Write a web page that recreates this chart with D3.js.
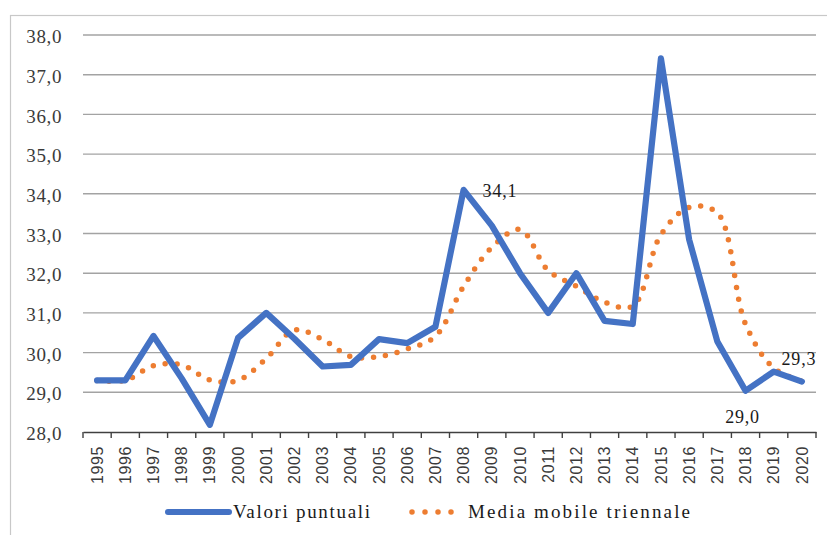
<!DOCTYPE html>
<html>
<head>
<meta charset="utf-8">
<script src="https://cdn.jsdelivr.net/npm/d3@7"></script>
<style>
  html, body { margin: 0; padding: 0; background: #fff; }
  svg { display: block; }
</style>
</head>
<body>
<svg id="chart" width="827" height="535"></svg>
<script>
// ---- data ----
const years = ["1995","1996","1997","1998","1999","2000","2001","2002","2003","2004","2005","2006","2007","2008","2009","2010","2011","2012","2013","2014","2015","2016","2017","2018","2019","2020"];
const valoriPuntuali = [29.3,29.3,30.42,29.35,28.18,30.37,31.0,30.35,29.65,29.69,30.34,30.24,30.65,34.1,33.2,32.0,31.0,32.0,30.8,30.72,37.41,32.85,30.28,29.04,29.52,29.27];
const mediaMobile = [29.3,29.3,29.67,29.69,29.31,29.3,29.85,30.57,30.33,29.9,29.9,30.09,30.41,31.67,32.65,33.1,32.07,31.67,31.27,31.17,32.97,33.66,33.52,30.72,29.61,29.28];
const yTicks = [28,29,30,31,32,33,34,35,36,37,38];
const seriesNames = ["Valori puntuali", "Media mobile triennale"];
const annotations = [
  {year: "2008", value: 34.1, label: "34,1", dx: 19, dy: 7, anchor: "start"},
  {year: "2020", value: 29.27, label: "29,3", dx: -3, dy: -17, anchor: "middle"},
  {year: "2018", value: 29.04, label: "29,0", dx: -3, dy: 32, anchor: "middle"}
];

// ---- layout ----
const svg = d3.select("#chart");
const plotLeft = 83, plotRight = 816, plotTop = 35, plotBottom = 432;
const blue = "#4472C4", orange = "#ED7D31";

const x = d3.scaleBand().domain(years).range([plotLeft, plotRight]);
const y = d3.scaleLinear().domain([28, 38]).range([plotBottom, plotTop]);
const fmt = d3.formatLocale({decimal: ",", thousands: ".", grouping: [3], currency: ["", "€"]}).format(".1f");
const cx = d => x(d) + x.bandwidth() / 2;

// outer border
svg.append("rect")
  .attr("x", 10.5).attr("y", 15.5)
  .attr("width", 840).attr("height", 540)
  .attr("fill", "none").attr("stroke", "#c8c8c8").attr("stroke-width", 1.2);

// gridlines
svg.append("g")
  .selectAll("line")
  .data(yTicks.filter(t => t > 28))
  .join("line")
  .attr("x1", plotLeft).attr("x2", plotRight)
  .attr("y1", d => y(d)).attr("y2", d => y(d))
  .attr("stroke", "#a3a3a3").attr("stroke-width", 1.4);

// y axis labels
const yAxis = svg.append("g")
  .attr("transform", `translate(${plotLeft},0)`)
  .call(d3.axisLeft(y).tickValues(yTicks).tickSize(0).tickPadding(21).tickFormat(fmt));
yAxis.select(".domain").remove();
yAxis.selectAll("text")
  .attr("font-family", "'Liberation Serif', 'Times New Roman', serif")
  .attr("font-size", 19)
  .attr("letter-spacing", 0.6)
  .attr("fill", "#3a3a3a")
  .attr("dy", "0.4em");

// x axis line + ticks at band boundaries
const xAxis = svg.append("g")
  .attr("transform", `translate(0,${plotBottom})`)
  .call(d3.axisBottom(x).tickSize(0).tickPadding(14));
xAxis.select(".domain")
  .attr("stroke", "#404040").attr("stroke-width", 1.5);
xAxis.selectAll("text")
  .attr("font-family", "'Liberation Sans', Arial, sans-serif")
  .attr("font-size", 16)
  .attr("letter-spacing", 0.6)
  .attr("fill", "#3a3a3a")
  .attr("text-anchor", "end")
  .attr("transform", "rotate(-90)")
  .attr("x", -14)
  .attr("dx", 0)
  .attr("y", 0)
  .attr("dy", "0.35em");

const boundaries = years.map(d => x(d)).concat([x.range()[1]]);
svg.append("g")
  .selectAll("line")
  .data(boundaries)
  .join("line")
  .attr("x1", d => d).attr("x2", d => d)
  .attr("y1", plotBottom).attr("y2", plotBottom + 6)
  .attr("stroke", "#404040").attr("stroke-width", 1.4);

// series lines
const lineBlue = d3.line()
  .x((d, i) => cx(years[i]))
  .y(d => y(d));
const lineOrange = d3.line()
  .x((d, i) => cx(years[i]))
  .y(d => y(d))
  .curve(d3.curveCatmullRom.alpha(0.5));

svg.append("path")
  .datum(mediaMobile)
  .attr("d", lineOrange)
  .attr("fill", "none")
  .attr("stroke", orange)
  .attr("stroke-width", 5.5)
  .attr("stroke-linecap", "round")
  .attr("stroke-dasharray", "0 12");

svg.append("path")
  .datum(valoriPuntuali)
  .attr("d", lineBlue)
  .attr("fill", "none")
  .attr("stroke", blue)
  .attr("stroke-width", 6.2)
  .attr("stroke-linejoin", "round")
  .attr("stroke-linecap", "round");

// annotations
svg.append("g")
  .selectAll("text")
  .data(annotations)
  .join("text")
  .attr("x", d => cx(d.year) + d.dx)
  .attr("y", d => y(d.value) + d.dy)
  .attr("text-anchor", d => d.anchor)
  .attr("font-family", "'Liberation Serif', 'Times New Roman', serif")
  .attr("font-size", 18)
  .attr("letter-spacing", 0.8)
  .attr("fill", "#1a1a1a")
  .text(d => d.label);

// legend
const legendY = 512;
const lg = svg.append("g");
lg.append("line")
  .attr("x1", 168).attr("x2", 229)
  .attr("y1", legendY).attr("y2", legendY)
  .attr("stroke", blue).attr("stroke-width", 6).attr("stroke-linecap", "round");
lg.append("text")
  .attr("x", 233).attr("y", legendY + 6)
  .attr("font-family", "'Liberation Serif', 'Times New Roman', serif")
  .attr("font-size", 19)
  .attr("fill", "#1a1a1a")
  .attr("textLength", 137).attr("lengthAdjust", "spacing")
  .text(seriesNames[0]);
lg.append("line")
  .attr("x1", 412).attr("x2", 464)
  .attr("y1", legendY).attr("y2", legendY)
  .attr("stroke", orange).attr("stroke-width", 5.5)
  .attr("stroke-linecap", "round").attr("stroke-dasharray", "0 13");
lg.append("text")
  .attr("x", 468).attr("y", legendY + 6)
  .attr("font-family", "'Liberation Serif', 'Times New Roman', serif")
  .attr("font-size", 19)
  .attr("fill", "#1a1a1a")
  .attr("textLength", 222).attr("lengthAdjust", "spacing")
  .text(seriesNames[1]);
</script>
</body>
</html>
